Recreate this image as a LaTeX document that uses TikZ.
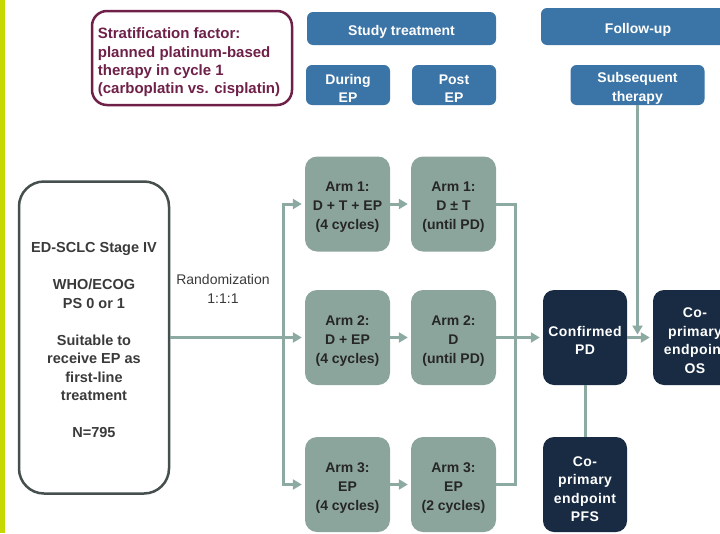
\documentclass[tikz,border=0pt]{standalone}
\usepackage{fontspec}
\setmainfont{Liberation Sans}
\usetikzlibrary{arrows.meta}
\definecolor{limebar}{HTML}{C5D900}
\definecolor{hdrblue}{HTML}{3B74A6}
\definecolor{armfill}{HTML}{8BA59D}
\definecolor{connc}{HTML}{8CAAA2}
\definecolor{navy}{HTML}{182B42}
\definecolor{maroon}{HTML}{6E2048}
\definecolor{maingray}{HTML}{454F4D}
\definecolor{txtgray}{HTML}{3A3A3A}
\begin{document}
\begin{tikzpicture}[x=1pt,y=-1pt,
  every node/.style={font=\fontsize{14}{18.5}\selectfont\bfseries, align=center, inner sep=0pt},
  hdrbox/.style={fill=hdrblue, rounded corners=6pt},
  hdrtxt/.style={text=white, yshift=-3.5pt},
  armbox/.style={fill=armfill, rounded corners=12pt, minimum width=85pt, minimum height=95pt},
  armtxt/.style={text=black!85, yshift=-3.5pt, font=\fontsize{14}{19}\selectfont\bfseries},
  navybox/.style={fill=navy, rounded corners=11pt, minimum width=84pt, minimum height=95pt},
  navytxt/.style={text=white, yshift=-3pt, font=\fontsize{14}{18.5}\selectfont\bfseries\addfontfeatures{LetterSpace=3}},
  conn/.style={draw=connc, line width=3pt},
  tip/.style={conn, -{Triangle[length=9pt,width=10pt]}, shorten >=3pt}
]
\useasboundingbox (0,0) rectangle (720,533);
\clip (0,0) rectangle (720,533);
\fill[limebar] (0,0) rectangle (4.5,533);

% header boxes
\node[draw=maroon, line width=2.5pt, rounded corners=15pt, minimum width=200pt, minimum height=94pt,
  label={[text=maroon, yshift=-4.5pt, xshift=-3pt, align=left, font=\fontsize{15}{18.3}\selectfont\bfseries]center:{Stratification factor:\\planned platinum-based\\therapy in cycle 1\\(carboplatin vs. cisplatin)}}] (strat) at (192,58) {};
\node[hdrbox, minimum width=189pt, minimum height=33pt, label={[hdrtxt]center:{Study treatment}}] (study) at (401.5,28.5) {};
\node[hdrbox, minimum width=84pt, minimum height=40pt, label={[hdrtxt]center:{During\\EP}}] (during) at (348,85) {};
\node[hdrbox, minimum width=84pt, minimum height=40pt, label={[hdrtxt]center:{Post\\EP}}] (post) at (454,85) {};
\node[hdrbox, minimum width=194pt, minimum height=37pt, label={[hdrtxt]center:{Follow-up}}] (follow) at (638,26.5) {};
\node[hdrbox, minimum width=134pt, minimum height=40pt, label={[hdrtxt]center:{Subsequent\\therapy}}] (subs) at (637.5,85) {};

% main box
\node[draw=maingray, line width=2.5pt, rounded corners=25pt, minimum width=150pt, minimum height=312pt,
  label={[text=txtgray, yshift=-3pt, font=\fontsize{14.5}{18.5}\selectfont\bfseries]center:{ED-SCLC Stage IV\\[18.5pt]WHO/ECOG\\PS 0 or 1\\[18.5pt]Suitable to\\receive EP as\\first-line\\treatment\\[18.5pt]N=795}}] (main) at (94,337.5) {};
\node[font=\fontsize{14}{18.5}\selectfont\mdseries, text=txtgray] (rand) at (223,289) {Randomization\\1:1:1};

% arms
\node[armbox, label={[armtxt]center:{Arm 1:\\D + T + EP\\(4 cycles)}}] (a1a) at (347.5,204) {};
\node[armbox, label={[armtxt]center:{Arm 2:\\D + EP\\(4 cycles)}}] (a2a) at (347.5,337.5) {};
\node[armbox, label={[armtxt]center:{Arm 3:\\EP\\(4 cycles)}}] (a3a) at (347.5,484.5) {};
\node[armbox, label={[armtxt]center:{Arm 1:\\D ± T\\(until PD)}}] (a1b) at (453.5,204) {};
\node[armbox, label={[armtxt]center:{Arm 2:\\D\\(until PD)}}] (a2b) at (453.5,337.5) {};
\node[armbox, label={[armtxt]center:{Arm 3:\\EP\\(2 cycles)}}] (a3b) at (453.5,484.5) {};

% outcomes
\node[navybox, label={[navytxt]center:{Confirmed\\PD}}] (cpd) at (585,337.5) {};
\node[navybox, label={[navytxt]center:{Co-\\primary\\endpoint\\OS}}] (os) at (695,337.5) {};
\node[navybox, label={[navytxt, yshift=-1.5pt]center:{Co-\\primary\\endpoint\\PFS}}] (pfs) at (585,484.5) {};

% connectors
\coordinate (sp) at (283,337.5);
\coordinate (mg) at (515,337.5);
\draw[conn] (main.east) -- (sp);
\draw[tip] (sp) |- (a1a.west);
\draw[tip] (sp) -- (a2a.west);
\draw[tip] (sp) |- (a3a.west);
\draw[tip] (a1a) -- (a1b);
\draw[tip] (a2a) -- (a2b);
\draw[tip] (a3a) -- (a3b);
\draw[conn] (a1b.east) -| (mg);
\draw[conn] (a3b.east) -| (mg);
\draw[tip] (a2b) -- (cpd);
\draw[tip] (cpd) -- (os);
\coordinate (jn) at (subs.south |- os.west);
\draw[tip] (subs) -- (jn);
\draw[conn] (cpd) -- (pfs);
\end{tikzpicture}
\end{document}
